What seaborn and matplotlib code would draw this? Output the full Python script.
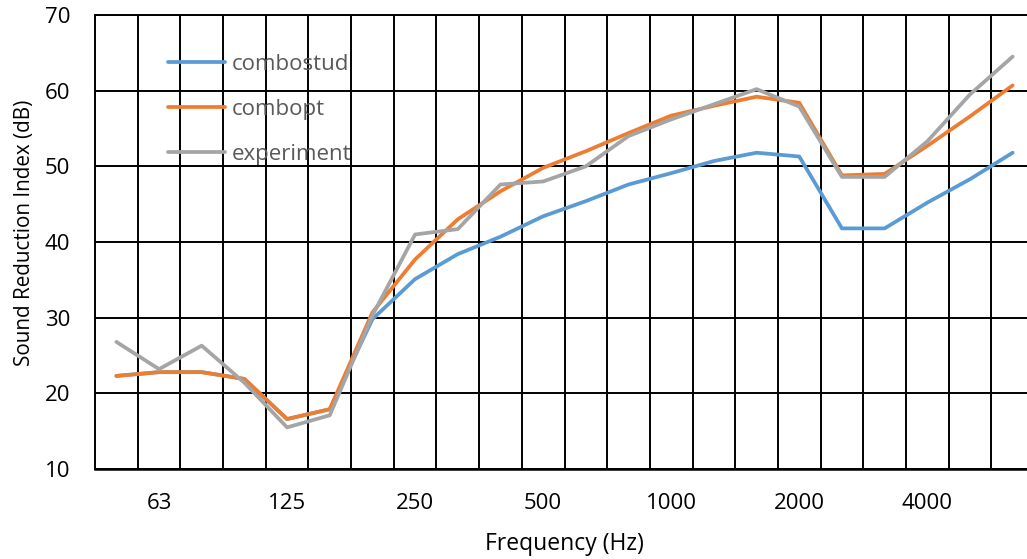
import matplotlib
matplotlib.use("Agg")
import matplotlib.pyplot as plt
import seaborn as sns
import pandas as pd
import numpy as np

# Third-octave band centre frequencies (Hz)
categories = [50, 63, 80, 100, 125, 160, 200, 250, 315, 400, 500, 630,
              800, 1000, 1250, 1600, 2000, 2500, 3150, 4000, 5000, 6300]
combostud = [22.3, 22.8, 22.8, 21.9, 16.6, 17.9, 29.8, 35.1, 38.4, 40.7, 43.4,
             45.4, 47.6, 49.1, 50.7, 51.8, 51.3, 41.8, 41.8, 45.2, 48.3, 51.8]
combopt = [22.3, 22.8, 22.8, 21.9, 16.6, 17.9, 30.7, 37.7, 43.0, 46.7, 49.8,
           52.0, 54.4, 56.7, 58.0, 59.2, 58.4, 48.8, 49.0, 52.7, 56.6, 60.7]
experiment = [26.8, 23.2, 26.3, 21.4, 15.5, 17.1, 30.3, 41.0, 41.7, 47.6, 48.0,
              50.0, 54.0, 56.2, 58.2, 60.2, 57.9, 48.6, 48.6, 53.3, 59.5, 64.5]
tick_labels = ["63", "125", "250", "500", "1000", "2000", "4000"]
series_names = ["combostud", "combopt", "experiment"]
colors = ["#5B9BD5", "#ED7D31", "#A5A5A5"]

sns.set_theme(style="white")
plt.rcParams["font.family"] = ["Open Sans", "DejaVu Sans"]

idx = np.arange(len(categories))
df = pd.concat([
    pd.DataFrame({"idx": idx, "freq": categories, "value": vals, "series": name})
    for name, vals in zip(series_names, [combostud, combopt, experiment])
], ignore_index=True)

fig = plt.figure(figsize=(10.27, 5.59), dpi=100)
ax = fig.add_axes([95 / 1027, 90 / 559, 939 / 1027, 454 / 559])

sns.lineplot(data=df, x="idx", y="value", hue="series", hue_order=series_names,
             palette=colors, linewidth=2.7, ax=ax, sort=False, zorder=3)

ax.set_xlim(-0.5, len(categories) - 0.5)
ax.set_ylim(10, 70)
ax.set_yticks(np.arange(10, 71, 10))

label_pos = [categories.index(int(t)) for t in tick_labels]
ax.set_xticks(label_pos)
ax.set_xticklabels(tick_labels)
ax.set_xticks(np.arange(0.5, len(categories) - 0.5, 1.0), minor=True)

ax.grid(False)
ax.grid(True, axis="x", which="minor", color="black", linewidth=1.4)
ax.grid(True, axis="y", which="major", color="black", linewidth=1.4)
ax.set_axisbelow(True)

for side in ["left", "top", "bottom"]:
    ax.spines[side].set_color("black")
    ax.spines[side].set_linewidth(1.4)
ax.spines["bottom"].set_linewidth(1.8)
ax.spines["right"].set_visible(False)

ax.tick_params(axis="both", which="both", length=0, labelsize=16, colors="black")
ax.tick_params(axis="y", pad=18)
ax.tick_params(axis="x", pad=17)

ax.set_xlabel("Frequency (Hz)", fontsize=16.5, color="black", labelpad=13.5)
ax.set_ylabel("Sound Reduction Index (dB)", fontsize=14.9, color="black")
ax.yaxis.set_label_coords(-0.064, 0.52)

leg = ax.legend(loc="upper left", bbox_to_anchor=(168 / 1027, 1 - 54 / 559),
                bbox_transform=fig.transFigure, frameon=False, fontsize=16,
                handlelength=2.57, handletextpad=0.32, labelspacing=1.07,
                borderpad=0, borderaxespad=0, title=None)
for t in leg.get_texts():
    t.set_color("#595959")
for h in leg.get_lines():
    h.set_linewidth(2.7)

fig.savefig("out.png", dpi=100)
